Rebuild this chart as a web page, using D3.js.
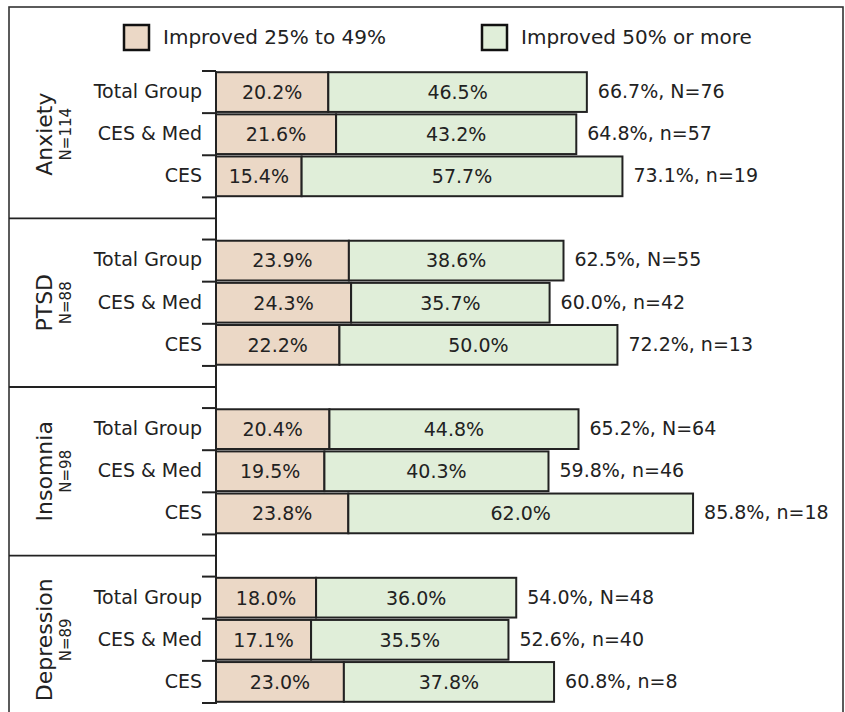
<!DOCTYPE html>
<html>
<head>
<meta charset="utf-8">
<script src="https://cdn.jsdelivr.net/npm/d3@7"></script>
<style>
  html, body { margin: 0; padding: 0; background: #fff; }
  svg { display: block; font-family: "DejaVu Sans", sans-serif; }
</style>
</head>
<body>
<div id="chart"></div>
<script>
// Chart data
const groups = ['Anxiety', 'PTSD', 'Insomnia', 'Depression'];
const groupN = ['N=114', 'N=88', 'N=98', 'N=89'];
const subgroups = ['Total Group', 'CES & Med', 'CES'];
const improved25 = [
    [20.2, 21.6, 15.4],
    [23.9, 24.3, 22.2],
    [20.4, 19.5, 23.8],
    [18.0, 17.1, 23.0]
];
const improved50 = [
    [46.5, 43.2, 57.7],
    [38.6, 35.7, 50.0],
    [44.8, 40.3, 62.0],
    [36.0, 35.5, 37.8]
];
const sampleSizes = [
    ['N=76', 'n=57', 'n=19'],
    ['N=55', 'n=42', 'n=13'],
    ['N=64', 'n=46', 'n=18'],
    ['N=48', 'n=40', 'n=8']
];
const legendLabels = ['Improved 25% to 49%', 'Improved 50% or more'];

const colors = ['#ebd8c6', '#e0eed9'];
const ink = '#222';

const width = 845, height = 712;

const svg = d3.select('#chart')
    .append('svg')
    .attr('width', width)
    .attr('height', height);

// Outer frame (bottom edge runs past the picture)
svg.append('rect')
    .attr('x', 9).attr('y', 7)
    .attr('width', 834).attr('height', 730)
    .attr('fill', 'none')
    .attr('stroke', '#333')
    .attr('stroke-width', 1.6);

// Build rows: 3 bars per group, a spacer slot between groups
const rows = [];
const slots = [];
groups.forEach((g, gi) => {
    if (gi > 0) slots.push(`gap-${gi}`);
    subgroups.forEach((s, si) => {
        const key = `${g}-${s}`;
        slots.push(key);
        rows.push({
            key, group: gi, sub: s,
            a: improved25[gi][si],
            b: improved50[gi][si],
            n: sampleSizes[gi][si]
        });
    });
});

const y = d3.scaleBand()
    .domain(slots)
    .range([71, 703])
    .paddingInner(0)
    .paddingOuter(0);

const x = d3.scaleLinear()
    .domain([0, 100])
    .range([216, 772]);

const bh = y.bandwidth();
const barPad = 1.2;

// Group separators on the left
groups.slice(1).forEach((g, i) => {
    const yy = y(`gap-${i + 1}`) + bh / 2;
    svg.append('line')
        .attr('x1', 9).attr('x2', x(0))
        .attr('y1', yy).attr('y2', yy)
        .attr('stroke', ink).attr('stroke-width', 1.8);
});

// Tick marks at every slot edge
const edges = slots.map(s => y(s)).concat([y(slots[slots.length - 1]) + bh]);
svg.selectAll('.tick')
    .data(edges)
    .enter()
    .append('line')
    .attr('class', 'tick')
    .attr('x1', x(0) - 14).attr('x2', x(0))
    .attr('y1', d => d).attr('y2', d => d)
    .attr('stroke', ink).attr('stroke-width', 2);

// Bars
const rowG = svg.selectAll('.row')
    .data(rows)
    .enter()
    .append('g')
    .attr('class', 'row')
    .attr('transform', d => `translate(0, ${y(d.key)})`);

rowG.append('rect')
    .attr('x', x(0))
    .attr('y', barPad)
    .attr('width', d => x(d.a) - x(0))
    .attr('height', bh - 2 * barPad)
    .attr('fill', colors[0])
    .attr('stroke', ink)
    .attr('stroke-width', 2);

rowG.append('rect')
    .attr('x', d => x(d.a))
    .attr('y', barPad)
    .attr('width', d => x(d.a + d.b) - x(d.a))
    .attr('height', bh - 2 * barPad)
    .attr('fill', colors[1])
    .attr('stroke', ink)
    .attr('stroke-width', 2);

// Segment labels
rowG.append('text')
    .attr('x', d => (x(0) + x(d.a)) / 2)
    .attr('y', bh / 2)
    .attr('dy', '0.36em')
    .attr('text-anchor', 'middle')
    .attr('font-size', '19px')
    .attr('fill', ink)
    .text(d => d.a.toFixed(1) + '%');

rowG.append('text')
    .attr('x', d => (x(d.a) + x(d.a + d.b)) / 2)
    .attr('y', bh / 2)
    .attr('dy', '0.36em')
    .attr('text-anchor', 'middle')
    .attr('font-size', '19px')
    .attr('fill', ink)
    .text(d => d.b.toFixed(1) + '%');

// Totals at bar ends
rowG.append('text')
    .attr('x', d => x(d.a + d.b) + 11)
    .attr('y', bh / 2 - 1)
    .attr('dy', '0.36em')
    .attr('font-size', '19px')
    .attr('fill', ink)
    .text(d => `${(d.a + d.b).toFixed(1)}%, ${d.n}`);

// Subgroup labels
rowG.append('text')
    .attr('x', x(0) - 14)
    .attr('y', bh / 2 - 1)
    .attr('dy', '0.36em')
    .attr('text-anchor', 'end')
    .attr('font-size', '19px')
    .attr('fill', ink)
    .text(d => d.sub);

// Axis line
svg.append('line')
    .attr('x1', x(0)).attr('x2', x(0))
    .attr('y1', edges[0]).attr('y2', edges[edges.length - 1] + 1)
    .attr('stroke', ink).attr('stroke-width', 2);

// Rotated group names
groups.forEach((g, gi) => {
    const top = y(`${g}-${subgroups[0]}`);
    const bottom = y(`${g}-${subgroups[2]}`) + bh;
    const cy = (top + bottom) / 2;
    svg.append('text')
        .attr('transform', `translate(52, ${cy}) rotate(-90)`)
        .attr('text-anchor', 'middle')
        .attr('font-size', '22px')
        .attr('fill', ink)
        .text(g);
    svg.append('text')
        .attr('transform', `translate(71, ${cy}) rotate(-90)`)
        .attr('text-anchor', 'middle')
        .attr('font-size', '15px')
        .attr('fill', ink)
        .text(groupN[gi]);
});

// Legend
const legendX = [124, 482];
legendLabels.forEach((label, i) => {
    svg.append('rect')
        .attr('x', legendX[i]).attr('y', 25)
        .attr('width', 25).attr('height', 25)
        .attr('fill', colors[i])
        .attr('stroke', '#111')
        .attr('stroke-width', 2.5);
    svg.append('text')
        .attr('x', legendX[i] + 39)
        .attr('y', 37)
        .attr('dy', '0.36em')
        .attr('font-size', '20px')
        .attr('fill', ink)
        .text(label);
});
</script>
</body>
</html>
